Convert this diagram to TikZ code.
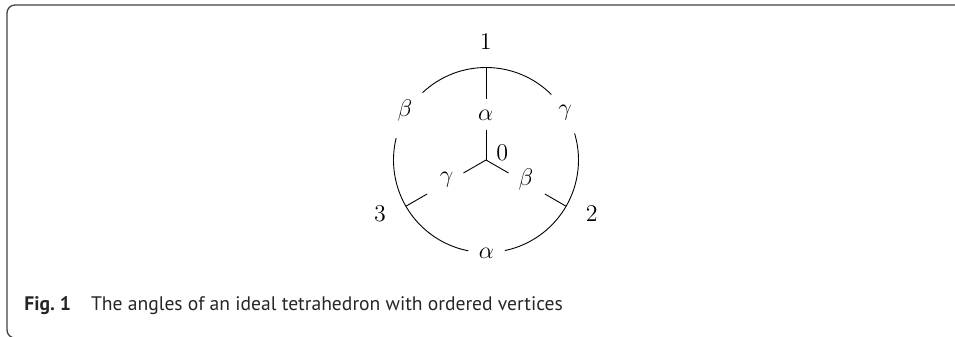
\documentclass[tikz,border=0pt]{standalone}
\usepackage{fontspec}
\newfontfamily\capfont{PT Sans}
\usetikzlibrary{calc}
\begin{document}
\begin{tikzpicture}[x=0.5pt,y=0.5pt,line width=0.45pt,
  lab/.style={inner sep=0pt,font=\fontsize{13}{15}\selectfont},
  frameline/.style={draw=black!75,line width=0.65pt,rounded corners=4pt},
  capstyle/.style={inner sep=0pt,anchor=base west,font=\capfont\fontsize{9.8}{11}\selectfont,text=black!85}]
\useasboundingbox (0,0) rectangle (955,337);
% frame
\coordinate (fa) at (960,332);
\coordinate (fb) at (7,332);
\coordinate (fc) at (7,-1);
\coordinate (fd) at (40,-1);
\draw[frameline] (fa) -- (fb) -- (fc) -- (fd);
% centre
\coordinate (C) at (486,177);
% circle arcs (gaps at the outer labels)
\draw ($(C)+(45.1:92.5)$) arc[start angle=45.1,end angle=133.3,radius=46.25pt];
\draw ($(C)+(166.3:92.5)$) arc[start angle=166.3,end angle=259,radius=46.25pt];
\draw ($(C)+(281.8:92.5)$) arc[start angle=281.8,end angle=376.7,radius=46.25pt];
% ticks from the circle inward
\coordinate (t1o) at ($(C)+(90:92.5)$);
\coordinate (t1i) at ($(C)+(90:61)$);
\coordinate (t2o) at ($(C)+(330:92.5)$);
\coordinate (t2i) at ($(C)+(330:68)$);
\coordinate (t3o) at ($(C)+(210:92.5)$);
\coordinate (t3i) at ($(C)+(210:68)$);
\draw (t1o) -- (t1i);
\draw (t2o) -- (t2i);
\draw (t3o) -- (t3i);
% inner Y
\coordinate (y1) at ($(C)+(90:30)$);
\coordinate (y2) at ($(C)+(330:26)$);
\coordinate (y3) at ($(C)+(210:26)$);
\draw (C) -- (y1);
\draw (C) -- (y2);
\draw (C) -- (y3);
% vertex labels
\node[lab] (v1) at (485.7,295.3) {$1$};
\node[lab] (v2) at (591.7,123.7) {$2$};
\node[lab] (v3) at (380,123.7) {$3$};
\node[lab] (v0) at (502.3,184.3) {$0$};
% inner angle labels
\node[lab] (ia) at (485.7,222) {$\alpha$};
\node[lab] (ig) at (446.7,157) {$\gamma$};
\node[lab] (ib) at (526,157.7) {$\beta$};
% outer angle labels
\node[lab] (ob) at (405,226) {$\beta$};
\node[lab] (og) at (565,224) {$\gamma$};
\node[lab] (oa) at (486.5,84) {$\alpha$};
% caption
\node[capstyle] (cap) at (24,26) {\textbf{Fig.~1}\hspace{10pt}The angles of an ideal tetrahedron with ordered vertices};
\end{tikzpicture}
\end{document}
